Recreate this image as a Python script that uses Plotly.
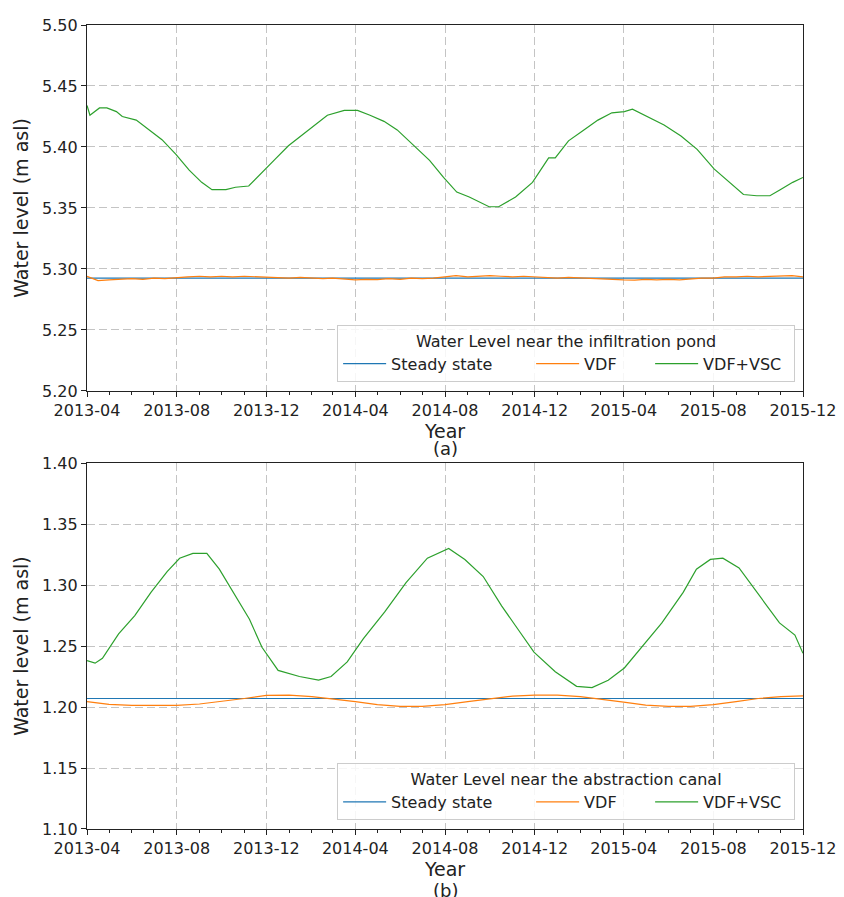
import plotly.graph_objects as go

# ---------------- data: panel (a) infiltration pond ----------------
a_green_dates = [
    "2013-04-01", "2013-04-05", "2013-04-18", "2013-04-28", "2013-05-11", "2013-05-19",
    "2013-06-07", "2013-06-25", "2013-07-12", "2013-07-31", "2013-08-18", "2013-09-04",
    "2013-09-18", "2013-10-07", "2013-10-20", "2013-11-07", "2013-11-24", "2013-12-13",
    "2013-12-31", "2014-01-17", "2014-02-05", "2014-02-22", "2014-03-17", "2014-04-04",
    "2014-04-21", "2014-05-10", "2014-05-28", "2014-06-24", "2014-07-11", "2014-07-30",
    "2014-08-17", "2014-09-03", "2014-09-30", "2014-10-13", "2014-11-05", "2014-11-28",
    "2014-12-20", "2014-12-29", "2015-01-16", "2015-02-04", "2015-02-25", "2015-03-16",
    "2015-04-02", "2015-04-13", "2015-05-03", "2015-05-26", "2015-06-18", "2015-07-10",
    "2015-08-02", "2015-08-25", "2015-09-11", "2015-09-29", "2015-10-17", "2015-10-31",
    "2015-11-17", "2015-12-01",
]
a_green_vals = [
    5.434, 5.426, 5.432, 5.432, 5.429, 5.425,
    5.422, 5.414, 5.406, 5.394, 5.381, 5.371,
    5.365, 5.365, 5.367, 5.368, 5.378, 5.390,
    5.401, 5.409, 5.418, 5.426, 5.430, 5.430,
    5.426, 5.421, 5.414, 5.399, 5.389, 5.375,
    5.363, 5.359, 5.351, 5.351, 5.359, 5.371,
    5.391, 5.391, 5.405, 5.413, 5.422, 5.428,
    5.429, 5.431, 5.425, 5.418, 5.409, 5.398,
    5.382, 5.370, 5.361, 5.360, 5.360, 5.365,
    5.371, 5.375,
]

a_orange_dates = [
    "2013-04-01", "2013-04-16", "2013-05-01", "2013-05-16", "2013-06-01", "2013-06-16",
    "2013-07-01", "2013-07-16", "2013-08-01", "2013-08-16", "2013-09-01", "2013-09-16",
    "2013-10-01", "2013-10-16", "2013-11-01", "2013-11-16", "2013-12-01", "2013-12-16",
    "2014-01-01", "2014-01-16", "2014-02-01", "2014-02-16", "2014-03-01", "2014-03-16",
    "2014-04-01", "2014-04-16", "2014-05-01", "2014-05-16", "2014-06-01", "2014-06-16",
    "2014-07-01", "2014-07-16", "2014-08-01", "2014-08-16", "2014-09-01", "2014-09-16",
    "2014-10-01", "2014-10-16", "2014-11-01", "2014-11-16", "2014-12-01", "2014-12-16",
    "2015-01-01", "2015-01-16", "2015-02-01", "2015-02-16", "2015-03-01", "2015-03-16",
    "2015-04-01", "2015-04-16", "2015-05-01", "2015-05-16", "2015-06-01", "2015-06-16",
    "2015-07-01", "2015-07-16", "2015-08-01", "2015-08-16", "2015-09-01", "2015-09-16",
    "2015-10-01", "2015-10-16", "2015-11-01", "2015-11-16", "2015-12-01",
]
a_orange_vals = [
    5.2940, 5.2905, 5.2910, 5.2915, 5.2920, 5.2915,
    5.2925, 5.2920, 5.2930, 5.2935, 5.2940, 5.2935,
    5.2940, 5.2935, 5.2940, 5.2935, 5.2935, 5.2930,
    5.2925, 5.2930, 5.2925, 5.2920, 5.2925, 5.2915,
    5.2910, 5.2915, 5.2912, 5.2920, 5.2915, 5.2925,
    5.2920, 5.2925, 5.2935, 5.2945, 5.2935, 5.2940,
    5.2945, 5.2940, 5.2935, 5.2940, 5.2935, 5.2930,
    5.2925, 5.2930, 5.2925, 5.2920, 5.2920, 5.2915,
    5.2910, 5.2908, 5.2915, 5.2910, 5.2915, 5.2910,
    5.2920, 5.2925, 5.2925, 5.2935, 5.2935, 5.2940,
    5.2935, 5.2940, 5.2940, 5.2945, 5.2935,
]

steady_dates = ["2013-04-01", "2015-12-01"]
a_steady_vals = [5.2925, 5.2925]

# ---------------- data: panel (b) abstraction canal ----------------
b_green_dates = [
    "2013-04-01", "2013-04-12", "2013-04-22", "2013-05-14", "2013-06-05", "2013-06-27",
    "2013-07-19", "2013-08-05", "2013-08-23", "2013-09-11", "2013-09-28", "2013-10-20",
    "2013-11-08", "2013-11-25", "2013-12-17", "2014-01-15", "2014-02-10", "2014-02-27",
    "2014-03-21", "2014-04-12", "2014-05-11", "2014-06-09", "2014-07-08", "2014-08-06",
    "2014-08-28", "2014-09-22", "2014-10-17", "2014-11-08", "2014-11-30", "2014-12-29",
    "2015-01-27", "2015-02-17", "2015-03-11", "2015-04-02", "2015-04-24", "2015-05-23",
    "2015-06-21", "2015-07-09", "2015-07-28", "2015-08-14", "2015-09-05", "2015-09-30",
    "2015-10-30", "2015-11-20", "2015-12-01",
]
b_green_vals = [
    1.238, 1.236, 1.240, 1.260, 1.275, 1.294,
    1.311, 1.322, 1.326, 1.326, 1.313, 1.291,
    1.272, 1.249, 1.230, 1.225, 1.222, 1.225,
    1.237, 1.256, 1.278, 1.302, 1.322, 1.330,
    1.321, 1.307, 1.283, 1.264, 1.245, 1.229,
    1.217, 1.216, 1.222, 1.232, 1.248, 1.269,
    1.294, 1.313, 1.321, 1.322, 1.314, 1.294,
    1.269, 1.259, 1.244,
]

b_orange_dates = [
    "2013-04-01", "2013-05-01", "2013-06-01", "2013-07-01", "2013-08-01", "2013-09-01",
    "2013-10-01", "2013-11-01", "2013-12-01", "2014-01-01", "2014-02-01", "2014-03-01",
    "2014-04-01", "2014-05-01", "2014-06-01", "2014-07-01", "2014-08-01", "2014-09-01",
    "2014-10-01", "2014-11-01", "2014-12-01", "2015-01-01", "2015-02-01", "2015-03-01",
    "2015-04-01", "2015-05-01", "2015-06-01", "2015-07-01", "2015-08-01", "2015-09-01",
    "2015-10-01", "2015-11-01", "2015-12-01",
]
b_orange_vals = [
    1.2045, 1.2022, 1.2013, 1.2012, 1.2013, 1.2025,
    1.2045, 1.2070, 1.2095, 1.2097, 1.2085, 1.2068,
    1.2045, 1.2020, 1.2005, 1.2005, 1.2020, 1.2045,
    1.2070, 1.2090, 1.2098, 1.2097, 1.2085, 1.2065,
    1.2040, 1.2015, 1.2005, 1.2005, 1.2020, 1.2045,
    1.2070, 1.2085, 1.2092,
]
b_steady_vals = [1.207, 1.207]

series_names = ["Steady state", "VDF", "VDF+VSC"]
colors = ["#1f77b4", "#ff7f0e", "#2ca02c"]
legend_titles = ["Water Level near the infiltration pond",
                 "Water Level near the abstraction canal"]
x_range = ["2013-04-01", "2015-12-01"]
panel_labels = ["(a)", "(b)"]

fig = go.Figure()

panels = [
    ("x", "y", "legend", a_steady_vals, a_orange_dates, a_orange_vals, a_green_dates, a_green_vals),
    ("x2", "y2", "legend2", b_steady_vals, b_orange_dates, b_orange_vals, b_green_dates, b_green_vals),
]
widths = [135, 61, 86]
for xa, ya, lg, sv, od, ov, gd, gv in panels:
    data = [(steady_dates, sv), (od, ov), (gd, gv)]
    for i, (dx, dy) in enumerate(data):
        fig.add_trace(go.Scatter(
            x=dx, y=dy, mode="lines", name=series_names[i],
            line=dict(color=colors[i], width=1.2),
            legendwidth=widths[i],
            xaxis=xa, yaxis=ya, legend=lg))

axis_common = dict(
    showline=True, linecolor="#222222", linewidth=1.4, mirror=True,
    ticks="outside", ticklen=5, tickwidth=1.2, tickcolor="#222222",
    showgrid=True, gridcolor="#c4c4c4", gridwidth=1, griddash="8px,4px",
    zeroline=False, tickfont=dict(size=16, color="#222222"),
)
xaxis_common = dict(
    axis_common, type="date", range=x_range, tick0="2013-04-01", dtick="M4",
    tickformat="%Y-%m",
    minor=dict(dtick="M1", ticks="outside", ticklen=3, tickcolor="#222222",
               tickwidth=1, showgrid=False),
    title=dict(text="Year", font=dict(size=19, color="#222222"), standoff=3),
)
yaxis_common = dict(
    axis_common, dtick=0.05, tickformat=".2f",
    title=dict(text="Water level (m asl)", font=dict(size=19, color="#222222"), standoff=8),
)

legend_common = dict(
    orientation="h", xanchor="right", yanchor="bottom", x=0.989,
    bordercolor="#cccccc", borderwidth=1, bgcolor="rgba(255,255,255,0.85)",
    font=dict(size=16, color="#222222"), itemwidth=43,
)

# page body has an 8px margin: figure is shifted by (8, 8)
fig.update_layout(
    width=836, height=889,
    margin=dict(l=79, r=34, t=8, b=68),
    paper_bgcolor="white", plot_bgcolor="white",
    font=dict(family="DejaVu Sans", size=16, color="#222222"),
    showlegend=True,
    xaxis=dict(xaxis_common, domain=[0, 1], anchor="y"),
    yaxis=dict(yaxis_common, domain=[0.5449, 1], anchor="x", range=[5.20, 5.50]),
    xaxis2=dict(xaxis_common, domain=[0, 1], anchor="y2"),
    yaxis2=dict(yaxis_common, domain=[0, 0.4551], anchor="x2", range=[1.10, 1.40]),
    legend=dict(legend_common, y=0.556,
                title=dict(text=legend_titles[0], side="top center",
                           font=dict(size=16, color="#222222"))),
    legend2=dict(legend_common, y=0.011,
                 title=dict(text=legend_titles[1], side="top center",
                            font=dict(size=16, color="#222222"))),
    annotations=[
        dict(text=panel_labels[0], x=0.5, y=0.4736, xref="paper", yref="paper",
             showarrow=False, font=dict(size=18, color="#222222"), yanchor="middle"),
        dict(text=panel_labels[1], x=0.5, y=-0.0763, xref="paper", yref="paper",
             showarrow=False, font=dict(size=18, color="#222222"), yanchor="middle"),
    ],
)

fig.write_html("out.html")
